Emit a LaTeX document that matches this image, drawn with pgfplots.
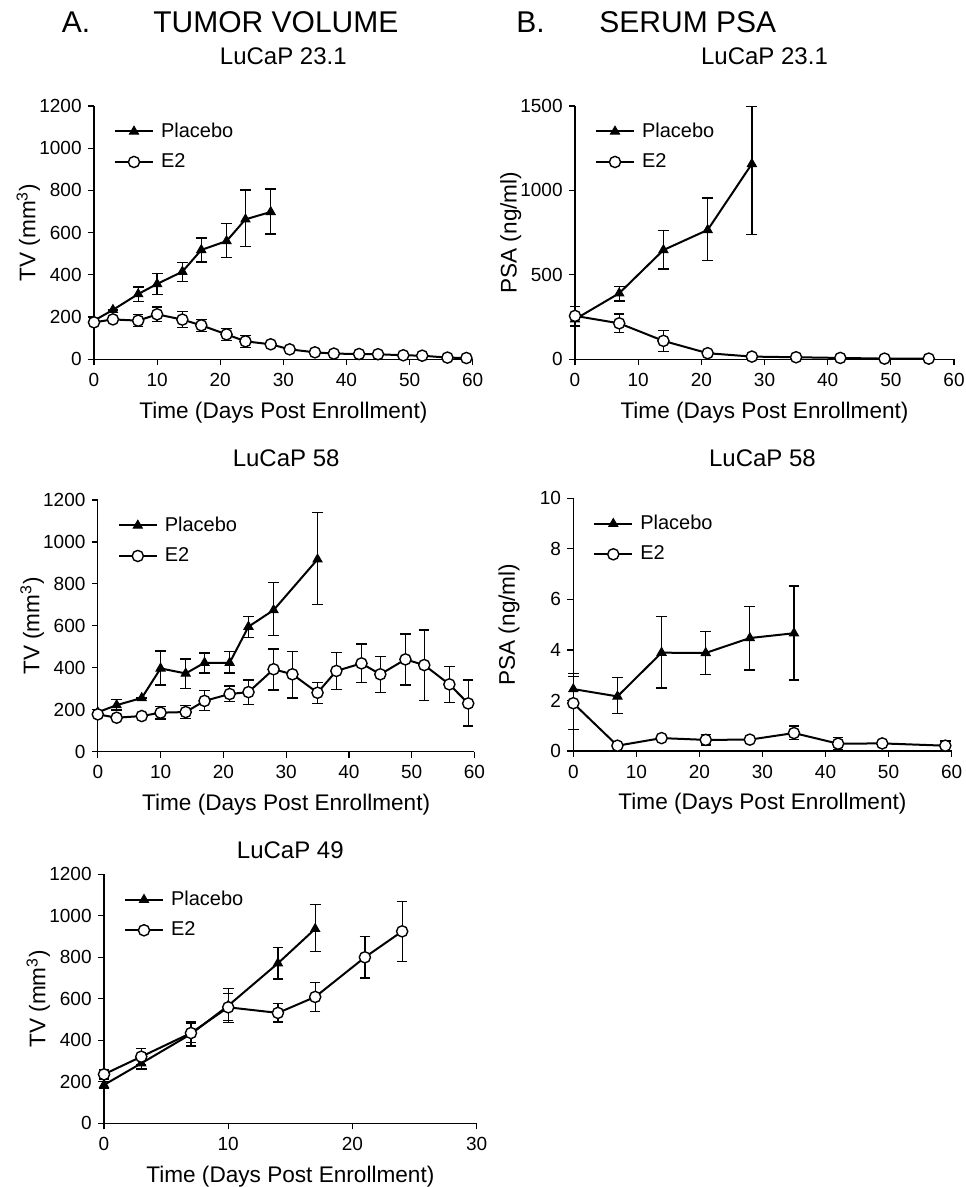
\documentclass[border=0pt]{standalone}
\usepackage{fontspec}
\setmainfont{Liberation Sans}
\usepackage{pgfplots}
\pgfplotsset{compat=1.18}

\pgfplotsset{
  panel/.style={
    scale only axis, anchor=south west, clip=false,
    axis lines=left, axis line style={-, line width=0.6pt},
    tick align=outside, major tick length=3pt,
    tick style={black, line width=0.6pt},
    xmin=0, xmax=60, xtick={0,10,...,60}, ymin=0,
    tick label style={font=\fontsize{9.5}{10}\selectfont},
    xticklabel style={inner sep=0pt, anchor=north, yshift=-3.7pt},
    yticklabel style={inner sep=0pt, anchor=east, xshift=-3pt},
    label style={font=\fontsize{11.3}{12}\selectfont},
    /pgf/number format/assume math mode=true,
    /pgf/number format/1000 sep={},
    xlabel={Time (Days Post Enrollment)},
    xlabel style={at={([yshift=-29.5pt]axis description cs:0.5,0)}, anchor=base},
    ylabel style={at={([xshift=-29.25pt]axis description cs:0,0.5)}, anchor=base},
    title style={font=\fontsize{12}{13}\selectfont, anchor=base},
    legend cell align=left,
    legend image code/.code={
      \draw[#1, mark repeat=2, mark phase=2] plot coordinates {(0pt,0pt) (9.5pt,0pt) (19pt,0pt)};},
    legend style={draw=none, fill=none, inner sep=0pt, outer sep=0pt,
      anchor=west, font=\fontsize{10}{11}\selectfont,
      row sep=2.65pt, column sep=1.5pt,
      at={([xshift=10pt,yshift=-20.3pt]axis description cs:0,1)}},
  },
  placebo/.style={black, line width=1pt, mark=triangle*, mark size=2.6pt,
    mark options={solid, fill=black, line width=0.5pt},
    error bars/.cd, y dir=both, y explicit,
    error bar style={line width=0.65pt},
    error mark options={rotate=90, mark size=2.7pt, line width=0.65pt}},
  etwo/.style={black, line width=1pt, mark=*, mark size=2.8pt,
    mark options={solid, fill=white, line width=0.7pt},
    error bars/.cd, y dir=both, y explicit,
    error bar style={line width=0.65pt},
    error mark options={rotate=90, mark size=2.6pt, line width=0.65pt}},
}

\begin{document}
\begin{tikzpicture}
\path[use as bounding box] (0,0) rectangle (482.5pt,593.5pt);

% headers
\node[anchor=base west, inner sep=0pt, font=\fontsize{15}{16}\selectfont] at (30.75pt,577pt) {A.};
\node[anchor=base west, inner sep=0pt, font=\fontsize{15}{16}\selectfont] at (76.5pt,577pt) {TUMOR VOLUME};
\node[anchor=base west, inner sep=0pt, font=\fontsize{15}{16}\selectfont] at (258pt,577pt) {B.};
\node[anchor=base west, inner sep=0pt, font=\fontsize{15}{16}\selectfont] at (299.5pt,577pt) {SERUM PSA};

% A: LuCaP 23.1 tumor volume
\begin{axis}[panel, at={(47pt,413.85pt)}, width=189.35pt, height=126.65pt,
  ymax=1200, ytick={0,200,...,1200},
  ylabel={TV (mm\textsuperscript{3})},
  title={LuCaP 23.1}, title style={at={([yshift=14.5pt]axis description cs:0.5,1)}}]
\addplot[placebo] coordinates {
  (0,183) +- (0,0)  (3,234) +- (0,0)  (7,309) +- (0,34)  (10,357) +- (0,50)
  (14,415) +- (0,45)  (17,518) +- (0,57)  (21,560) += (0,84) -= (0,77)
  (24,663) += (0,139) -= (0,129)  (28,698) += (0,109) -= (0,104)
};
\addlegendentry{Placebo}
\addplot[etwo] coordinates {
  (0,175) +- (0,0)  (3,189) +- (0,0)  (7,183) +- (0,29)  (10,213) +- (0,34)
  (14,188) +- (0,37)  (17,161) +- (0,29)  (21,118) +- (0,28)  (24,85) +- (0,29)
  (28,71) +- (0,0)  (31,47) +- (0,0)  (35,33) +- (0,0)  (38,27) +- (0,0)
  (42,25) +- (0,0)  (45,24) +- (0,0)  (49,19) +- (0,0)  (52,17) +- (0,0)
  (56,8) +- (0,0)  (59,6) +- (0,0)
};
\addlegendentry{E2}
\end{axis}

% B: LuCaP 23.1 PSA
\begin{axis}[panel, at={(287.5pt,413.85pt)}, width=189.5pt, height=126.65pt,
  ymax=1500, ytick={0,500,1000,1500},
  ylabel={PSA (ng/ml)},
  title={LuCaP 23.1}, title style={at={([yshift=14.5pt]axis description cs:0.5,1)}}]
\addplot[placebo] coordinates {
  (0,237) +- (0,40)  (7,391) += (0,39) -= (0,46)  (14,647) += (0,115) -= (0,112)
  (21,766) += (0,189) -= (0,182)  (28,1157) += (0,339) -= (0,417)
};
\addlegendentry{Placebo}
\addplot[etwo] coordinates {
  (0,257) +- (0,55)  (7,213) +- (0,55)  (14,109) += (0,61) -= (0,64)
  (21,36) +- (0,0)  (28,16) +- (0,0)  (35,12) +- (0,0)  (42,8) +- (0,0)
  (49,4) +- (0,0)  (56,4) +- (0,0)
};
\addlegendentry{E2}
\end{axis}

% A: LuCaP 58 tumor volume
\begin{axis}[panel, at={(48.9pt,217.65pt)}, width=188.35pt, height=125.85pt,
  ymax=1200, ytick={0,200,...,1200},
  ylabel={TV (mm\textsuperscript{3})},
  title={LuCaP 58}, title style={at={([yshift=10.5pt]axis description cs:0.5,1)}}]
\addplot[placebo] coordinates {
  (0,188) +- (0,0)  (3,222) += (0,28) -= (0,23)  (7,256) +- (0,0)
  (10,397) += (0,83) -= (0,79)  (14,373) += (0,69) -= (0,71)
  (17,424) += (0,46) -= (0,49)  (21,424) += (0,53) -= (0,49)
  (24,596) += (0,48) -= (0,52)  (28,675) += (0,131) -= (0,122)
  (35,917) += (0,224) -= (0,215)
};
\addlegendentry{Placebo}
\addplot[etwo] coordinates {
  (0,178) +- (0,0)  (3,162) +- (0,0)  (7,170) +- (0,0)  (10,186) +- (0,30)
  (14,189) +- (0,32)  (17,242) += (0,49) -= (0,47)  (21,275) += (0,38) -= (0,35)
  (24,284) += (0,58) -= (0,60)  (28,393) += (0,97) -= (0,99)
  (31,369) += (0,108) -= (0,113)  (35,281) += (0,50) -= (0,51)
  (38,385) += (0,87) -= (0,89)  (42,421) +- (0,92)  (45,369) += (0,84) -= (0,86)
  (49,440) += (0,121) -= (0,122)  (52,413) += (0,167) -= (0,170)
  (56,321) += (0,86) -= (0,87)  (59,230) += (0,112) -= (0,108)
};
\addlegendentry{E2}
\end{axis}

% B: LuCaP 58 PSA
\begin{axis}[panel, at={(286.65pt,218pt)}, width=189.15pt, height=126.35pt,
  ymax=10, ytick={0,2,...,10},
  ylabel={PSA (ng/ml)},
  title={LuCaP 58}, title style={at={([yshift=9.7pt]axis description cs:0.5,1)}}]
\addplot[placebo] coordinates {
  (0,2.45) +- (0,0.62)  (7,2.16) += (0,0.74) -= (0,0.68)
  (14,3.89) += (0,1.43) -= (0,1.40)  (21,3.88) += (0,0.84) -= (0,0.86)
  (28,4.47) += (0,1.24) -= (0,1.26)  (35,4.66) += (0,1.87) -= (0,1.85)
};
\addlegendentry{Placebo}
\addplot[etwo] coordinates {
  (0,1.89) += (0,1.05) -= (0,1.03)  (7,0.21) +- (0,0)  (14,0.51) +- (0,0)
  (21,0.44) +- (0,0.2)  (28,0.45) +- (0,0)  (35,0.71) += (0,0.28) -= (0,0.26)
  (42,0.29) +- (0,0.24)  (49,0.30) +- (0,0)  (59,0.21) +- (0,0.18)
};
\addlegendentry{E2}
\end{axis}

% A: LuCaP 49 tumor volume
\begin{axis}[panel, at={(52pt,31.85pt)}, width=186.35pt, height=124.5pt,
  xmax=30, xtick={0,10,20,30},
  ymax=1200, ytick={0,200,...,1200},
  ylabel={TV (mm\textsuperscript{3})},
  title={LuCaP 49}, title style={at={([yshift=2pt]axis description cs:0.5,1)}}]
\addplot[placebo] coordinates {
  (0,185) +- (0,15)  (3,289) +- (0,27)  (7,430) +- (0,58)  (10,567) +- (0,82)
  (14,771) +- (0,76)  (17,937) += (0,117) -= (0,110)
};
\addlegendentry{Placebo}
\addplot[etwo] coordinates {
  (0,236) +- (0,22)  (3,321) +- (0,40)  (7,435) +- (0,47)  (10,559) +- (0,65)
  (14,532) +- (0,44)  (17,609) +- (0,69)  (21,800) +- (0,100)
  (24,925) += (0,143) -= (0,146)
};
\addlegendentry{E2}
\end{axis}
\end{tikzpicture}
\end{document}
